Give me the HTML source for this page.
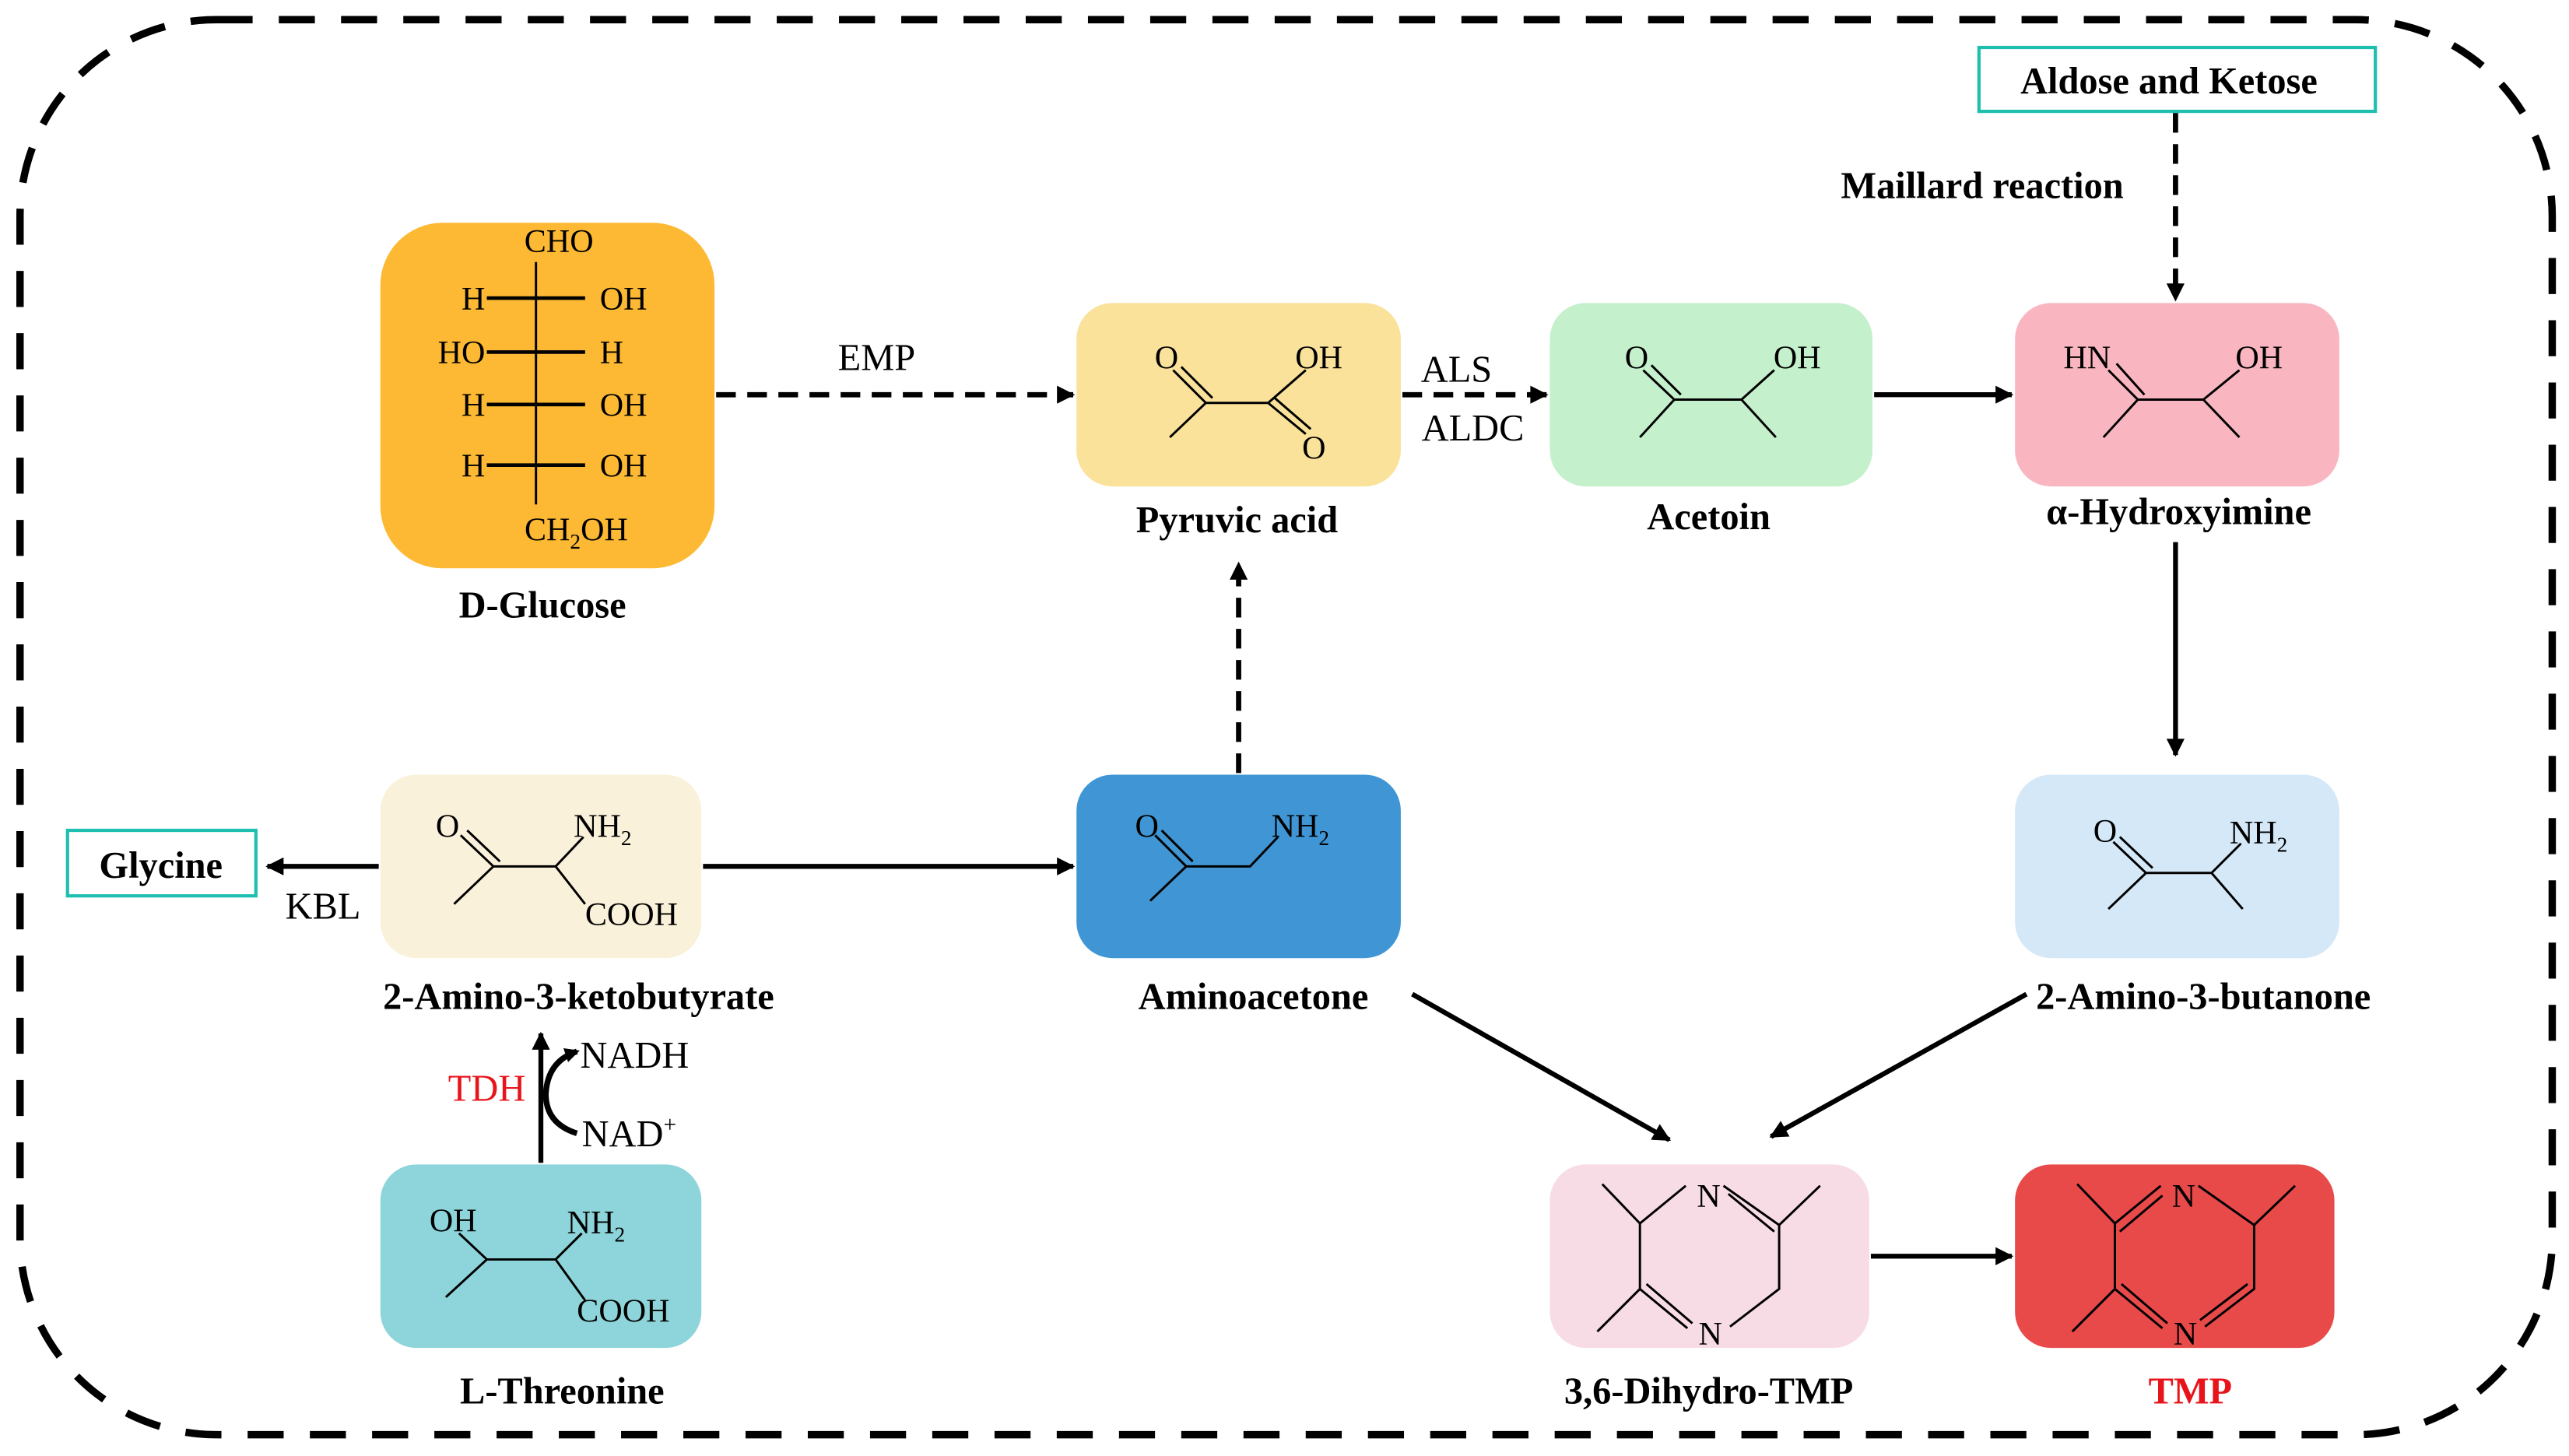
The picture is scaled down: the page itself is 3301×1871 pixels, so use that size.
<!DOCTYPE html>
<html><head><meta charset="utf-8"><style>
html,body{margin:0;padding:0;background:#fff}
svg{display:block}
text{font-family:"Liberation Serif",serif}
.lb{font-weight:bold;font-size:23px;text-anchor:middle}
.a{font-size:20px}
.s{stroke:#000;stroke-width:1.4;fill:none}
.ar{stroke:#000;stroke-width:3;fill:none}
.d{stroke:#000;stroke-width:3.2;fill:none;stroke-dasharray:12 7}
</style></head><body>
<svg width="3301" height="1871" viewBox="0 0 1568 889" xmlns="http://www.w3.org/2000/svg">
<defs><marker id="m" viewBox="0 0 10 10" refX="9" refY="5" markerWidth="13" markerHeight="11" orient="auto" markerUnits="userSpaceOnUse"><path d="M0,0 L10,5 L0,10z" fill="#000"/></marker>
<marker id="h" viewBox="0 0 10 10" refX="8" refY="5" markerWidth="9" markerHeight="9" orient="auto" markerUnits="userSpaceOnUse"><path d="M0,0 L10,5 L0,10z" fill="#000"/></marker></defs>
<rect x="12" y="12" width="1546" height="864" rx="120" ry="120" fill="none" stroke="#000" stroke-width="4.5" stroke-dasharray="22 16"/>

<rect x="232" y="136" width="204" height="211" rx="38" fill="#FDB933"/>
<rect x="657" y="185" width="198" height="112" rx="22" fill="#FAE29A"/>
<rect x="946" y="185" width="197" height="112" rx="22" fill="#C5F0CC"/>
<rect x="1230" y="185" width="198" height="112" rx="22" fill="#F9B6C0"/>
<rect x="232" y="473" width="196" height="112" rx="22" fill="#FAF1DA"/>
<rect x="657" y="473" width="198" height="112" rx="22" fill="#4096D4"/>
<rect x="1230" y="473" width="198" height="112" rx="22" fill="#D4E8F7"/>
<rect x="232" y="711" width="196" height="112" rx="22" fill="#8DD5DA"/>
<rect x="946" y="711" width="195" height="112" rx="22" fill="#F7DCE6"/>
<rect x="1230" y="711" width="195" height="112" rx="22" fill="#E84A4A"/>
<rect x="1208" y="29" width="242" height="39" fill="#fff" stroke="#1FBFB0" stroke-width="2"/>
<rect x="41" y="507" width="115" height="40" fill="#fff" stroke="#1FBFB0" stroke-width="2"/>
<text class="lb" x="1324" y="57">Aldose and Ketose</text>
<text class="lb" x="98" y="536">Glycine</text>

<text class="lb" x="331" y="377">D-Glucose</text>
<text class="lb" x="755" y="325">Pyruvic acid</text>
<text class="lb" x="1043" y="323">Acetoin</text>
<text class="lb" x="1330" y="320">α-Hydroxyimine</text>
<text class="lb" x="353" y="616">2-Amino-3-ketobutyrate</text>
<text class="lb" x="765" y="616">Aminoacetone</text>
<text class="lb" x="1345" y="616">2-Amino-3-butanone</text>
<text class="lb" x="343" y="857">L-Threonine</text>
<text class="lb" x="1043" y="857">3,6-Dihydro-TMP</text>
<text class="lb" x="1337" y="857" fill="#E8141B">TMP</text>
<text class="lb" x="1210" y="121">Maillard reaction</text>

<text x="535" y="226" font-size="23" text-anchor="middle">EMP</text>
<text x="889" y="233" font-size="23" text-anchor="middle">ALS</text>
<text x="899" y="269" font-size="23" text-anchor="middle">ALDC</text>
<text x="197" y="561" font-size="23" text-anchor="middle">KBL</text>
<text x="297" y="672" font-size="23" text-anchor="middle" fill="#E8141B">TDH</text>
<text x="354" y="652" font-size="23">NADH</text>
<text x="355" y="700" font-size="23">NAD<tspan font-size="14" dy="-9">+</tspan></text>

<line class="d" x1="437" y1="241" x2="655" y2="241" marker-end="url(#m)"/>
<line class="d" x1="856" y1="241" x2="944" y2="241" marker-end="url(#m)"/>
<line class="ar" x1="1144" y1="241" x2="1228" y2="241" marker-end="url(#m)"/>
<line class="d" x1="1328" y1="69" x2="1328" y2="183" marker-end="url(#m)"/>
<line class="ar" x1="1328" y1="331" x2="1328" y2="461" marker-end="url(#m)"/>
<line class="d" x1="756" y1="472" x2="756" y2="344" marker-end="url(#m)"/>
<line class="ar" x1="429" y1="529" x2="655" y2="529" marker-end="url(#m)"/>
<line class="ar" x1="231" y1="529" x2="163" y2="529" marker-end="url(#m)"/>
<line class="ar" x1="330" y1="710" x2="330" y2="631" marker-end="url(#m)"/>
<path d="M352,692 Q333,686 333,668 Q334,648 352,642" stroke="#000" stroke-width="3.5" fill="none" marker-end="url(#h)"/>
<line class="ar" x1="862" y1="607" x2="1019" y2="696" marker-end="url(#m)"/>
<line class="ar" x1="1237" y1="607" x2="1081" y2="694" marker-end="url(#m)"/>
<line class="ar" x1="1142" y1="767" x2="1228" y2="767" marker-end="url(#m)"/>

<g class="a">
<text x="341" y="154" text-anchor="middle">CHO</text>
<line class="s" x1="327" y1="160" x2="327" y2="308"/>
<g stroke="#000" stroke-width="2.2"><line x1="297" y1="182" x2="357" y2="182"/><line x1="297" y1="215" x2="357" y2="215"/><line x1="297" y1="247" x2="357" y2="247"/><line x1="297" y1="284" x2="357" y2="284"/></g>
<text x="296" y="189" text-anchor="end">H</text><text x="366" y="189">OH</text>
<text x="296" y="222" text-anchor="end">HO</text><text x="366" y="222">H</text>
<text x="296" y="254" text-anchor="end">H</text><text x="366" y="254">OH</text>
<text x="296" y="291" text-anchor="end">H</text><text x="366" y="291">OH</text>
<text x="320" y="330">CH<tspan font-size="13" dy="5">2</tspan><tspan dy="-5">OH</tspan></text>
</g>

<g class="a">
<text x="712" y="225" text-anchor="middle">O</text><text x="805" y="225" text-anchor="middle">OH</text><text x="802" y="280" text-anchor="middle">O</text>
<path class="s" d="M714,267 L736,246 L774,246 L797,226 M736,246 L716,226 M740,243 L721,224 M774,246 L797,265 M778,243 L800,262"/>
</g>
<g class="a">
<text x="999" y="225" text-anchor="middle">O</text><text x="1097" y="225" text-anchor="middle">OH</text>
<path class="s" d="M1001,267 L1022,244 L1063,244 L1083,226 M1063,244 L1084,267 M1022,244 L1003,226 M1026,241 L1008,223"/>
</g>
<g class="a">
<text x="1274" y="225" text-anchor="middle">HN</text><text x="1379" y="225" text-anchor="middle">OH</text>
<path class="s" d="M1284,267 L1305,244 L1345,244 L1367,226 M1345,244 L1367,267 M1305,244 L1287,226 M1309,241 L1292,222"/>
</g>
<g class="a">
<text x="273" y="511" text-anchor="middle">O</text><text x="350" y="511">NH<tspan font-size="13" dy="5">2</tspan></text><text x="357" y="565">COOH</text>
<path class="s" d="M277,552 L301,529 L339,529 L356,511 M339,529 L357,552 M301,529 L281,510 M305,526 L285,507"/>
</g>
<g class="a">
<text x="700" y="511" text-anchor="middle">O</text><text x="776" y="511">NH<tspan font-size="13" dy="5">2</tspan></text>
<path class="s" d="M702,550 L724,529 L763,529 L780,511 M724,529 L705,510 M728,526 L709,507"/>
</g>
<g class="a">
<text x="1285" y="514" text-anchor="middle">O</text><text x="1361" y="515">NH<tspan font-size="13" dy="5">2</tspan></text>
<path class="s" d="M1287,555 L1310,533 L1350,533 L1368,515 M1350,533 L1369,555 M1310,533 L1290,514 M1314,530 L1294,511"/>
</g>
<g class="a">
<text x="262" y="752">OH</text><text x="346" y="753">NH<tspan font-size="13" dy="5">2</tspan></text><text x="352" y="807">COOH</text>
<path class="s" d="M272,792 L297,769 L339,769 L355,753 M339,769 L357,794 M297,769 L280,753"/>
</g>
<g class="a">
<text x="1043" y="737" text-anchor="middle">N</text><text x="1044" y="821" text-anchor="middle">N</text>
<path class="s" d="M978,723 L1001,747 L1029,724 M1001,747 L1001,787 L975,813 M1001,787 L1030,811 M1005,784 L1033,808 M1052,724 L1086,748 L1111,724 M1055,729 L1083,752 M1086,748 L1086,787 L1056,810"/>
</g>
<g class="a">
<text x="1333" y="737" text-anchor="middle">N</text><text x="1334" y="821" text-anchor="middle">N</text>
<path class="s" d="M1268,723 L1291,747 L1319,724 M1294,752 L1320,730 M1291,747 L1291,787 L1265,813 M1291,787 L1320,811 M1295,784 L1323,808 M1342,724 L1376,748 L1401,724 M1376,748 L1376,787 L1346,810 M1372,784 L1343,806"/>
</g>
</svg>
</body></html>
